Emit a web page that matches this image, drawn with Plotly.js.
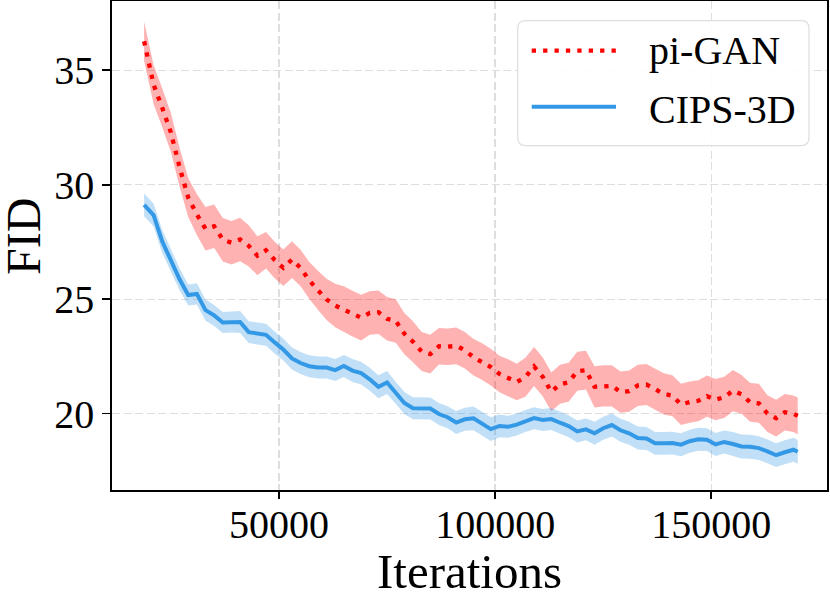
<!DOCTYPE html>
<html>
<head>
<meta charset="utf-8">
<script src="https://cdn.plot.ly/plotly-3.0.1.min.js"></script>
<style>
  html, body { margin: 0; padding: 0; background: #fff; }
  #plotArea { width: 830px; height: 599px; }
</style>
</head>
<body>
<div id="plotArea"></div>
<script>
var iterations = [18800, 21000, 23000, 25000, 27000, 29000, 31000, 33000, 35000, 37000,
    39000, 41000, 43000, 45000, 47000, 49000, 51000, 53000, 55000, 57000,
    59000, 61000, 63000, 65000, 67000, 69000, 71000, 73000, 75000, 77000,
    79000, 81000, 83000, 85000, 87000, 89000, 91000, 93000, 95000, 97000,
    99000, 101000, 103000, 105000, 107000, 109000, 111000, 113000, 115000, 117000,
    119000, 121000, 123000, 125000, 127000, 129000, 131000, 133000, 135000, 137000,
    139000, 141000, 143000, 145000, 147000, 149000, 151000, 153000, 155000, 157000,
    159000, 161000, 163000, 165000, 167000, 169000, 170000];

var piGanFid = [36.27, 34.37, 33.36, 32.28, 30.77, 29.44, 28.70, 28.08, 28.19, 27.60,
    27.47, 27.61, 27.33, 26.90, 27.14, 26.71, 26.37, 26.73, 26.36, 25.82,
    25.39, 24.99, 24.72, 24.56, 24.37, 24.19, 24.40, 24.43, 24.14, 24.05,
    23.49, 23.14, 22.71, 22.60, 22.94, 22.92, 22.96, 22.77, 22.46, 22.27,
    22.03, 21.73, 21.57, 21.38, 21.59, 22.06, 21.61, 20.95, 21.28, 21.37,
    21.85, 21.90, 21.17, 21.21, 21.21, 20.94, 20.98, 21.23, 21.27, 21.07,
    20.86, 20.78, 20.40, 20.50, 20.56, 20.76, 20.61, 20.71, 21.00, 20.84,
    20.49, 20.45, 20.00, 19.80, 20.06, 19.99, 19.90];
var piGanStd = [0.85, 0.85, 0.85, 0.85, 0.85, 0.85, 0.90, 0.95, 0.95, 0.95,
    0.95, 0.95, 0.90, 0.85, 0.80, 0.80, 0.80, 0.80, 0.80, 0.80,
    0.85, 0.90, 0.95, 1.00, 1.00, 1.00, 0.95, 0.95, 0.95, 0.95,
    0.90, 0.90, 0.85, 0.85, 0.80, 0.80, 0.80, 0.80, 0.80, 0.80,
    0.80, 0.80, 0.80, 0.80, 0.85, 0.85, 0.85, 0.85, 0.85, 0.85,
    0.85, 0.85, 0.90, 0.90, 0.90, 0.90, 0.90, 0.90, 0.90, 0.90,
    0.90, 0.90, 0.90, 0.90, 0.90, 0.90, 0.90, 0.90, 0.90, 0.85,
    0.85, 0.85, 0.80, 0.80, 0.80, 0.80, 0.80];

var cipsFid = [29.12, 28.67, 27.52, 26.69, 25.87, 25.18, 25.23, 24.52, 24.29, 23.98,
    24.00, 24.00, 23.56, 23.50, 23.44, 23.11, 22.80, 22.41, 22.21, 22.07,
    22.01, 22.01, 21.90, 22.08, 21.88, 21.77, 21.50, 21.17, 21.36, 20.91,
    20.46, 20.23, 20.22, 20.22, 19.98, 19.84, 19.61, 19.75, 19.79, 19.54,
    19.32, 19.46, 19.42, 19.52, 19.68, 19.80, 19.72, 19.76, 19.60, 19.45,
    19.22, 19.31, 19.14, 19.36, 19.50, 19.27, 19.14, 18.93, 18.91, 18.70,
    18.70, 18.71, 18.64, 18.79, 18.88, 18.86, 18.65, 18.76, 18.67, 18.56,
    18.55, 18.49, 18.35, 18.18, 18.31, 18.42, 18.33];
var cipsStd = [0.50, 0.50, 0.50, 0.50, 0.48, 0.46, 0.46, 0.46, 0.46, 0.46,
    0.46, 0.48, 0.48, 0.48, 0.48, 0.48, 0.48, 0.48, 0.48, 0.48,
    0.48, 0.48, 0.48, 0.48, 0.50, 0.50, 0.50, 0.50, 0.50, 0.48,
    0.48, 0.48, 0.48, 0.48, 0.48, 0.48, 0.50, 0.50, 0.52, 0.52,
    0.52, 0.50, 0.48, 0.48, 0.48, 0.48, 0.48, 0.48, 0.48, 0.48,
    0.48, 0.48, 0.50, 0.50, 0.50, 0.50, 0.50, 0.50, 0.50, 0.50,
    0.50, 0.50, 0.50, 0.50, 0.50, 0.50, 0.50, 0.50, 0.52, 0.52,
    0.52, 0.52, 0.52, 0.52, 0.52, 0.52, 0.52];

var xTicks = [50000, 100000, 150000];
var yTicks = [20, 25, 30, 35];
var seriesNames = ["pi-GAN", "CIPS-3D"];

var RED = "rgb(255,0,0)";
var BLUE = "rgb(51,152,230)";
var FONT = "Liberation Serif, Times New Roman, serif";

function band(mean, sd, sign) {
    return mean.map(function (v, i) { return v + sign * sd[i]; });
}

var traces = [
    { x: iterations, y: band(piGanFid, piGanStd, -1), type: "scatter", mode: "lines",
      line: { width: 0, color: RED }, showlegend: false, hoverinfo: "skip" },
    { x: iterations, y: band(piGanFid, piGanStd, 1), type: "scatter", mode: "lines",
      line: { width: 0, color: RED }, fill: "tonexty", fillcolor: "rgba(255,0,0,0.3)",
      showlegend: false, hoverinfo: "skip" },
    { x: iterations, y: band(cipsFid, cipsStd, -1), type: "scatter", mode: "lines",
      line: { width: 0, color: BLUE }, showlegend: false, hoverinfo: "skip" },
    { x: iterations, y: band(cipsFid, cipsStd, 1), type: "scatter", mode: "lines",
      line: { width: 0, color: BLUE }, fill: "tonexty", fillcolor: "rgba(51,152,230,0.3)",
      showlegend: false, hoverinfo: "skip" },
    { x: iterations, y: piGanFid, type: "scatter", mode: "lines", name: seriesNames[0],
      line: { color: RED, width: 4.3, dash: "4.3px,7.1px" } },
    { x: iterations, y: cipsFid, type: "scatter", mode: "lines", name: seriesNames[1],
      line: { color: BLUE, width: 4 } }
];

// legend drawn by hand so the line samples match the long matplotlib handles
var lx0 = 0.5674, lx1 = 0.9748, ly0 = 0.7041, ly1 = 0.9597, rx = 0.011, ry = 0.016;
var legendBox = "M" + (lx0 + rx) + "," + ly1 + " L" + (lx1 - rx) + "," + ly1 +
    " Q" + lx1 + "," + ly1 + " " + lx1 + "," + (ly1 - ry) +
    " L" + lx1 + "," + (ly0 + ry) + " Q" + lx1 + "," + ly0 + " " + (lx1 - rx) + "," + ly0 +
    " L" + (lx0 + rx) + "," + ly0 + " Q" + lx0 + "," + ly0 + " " + lx0 + "," + (ly0 + ry) +
    " L" + lx0 + "," + (ly1 - ry) + " Q" + lx0 + "," + ly1 + " " + (lx0 + rx) + "," + ly1 + " Z";

var layout = {
    width: 830,
    height: 599,
    margin: { l: 112, r: 3, t: 1, b: 109 },
    paper_bgcolor: "#fff",
    plot_bgcolor: "#fff",
    showlegend: false,
    font: { family: FONT, color: "#000" },
    xaxis: {
        range: [11370, 176770],
        tickvals: xTicks,
        ticktext: xTicks.map(String),
        ticks: "outside", ticklen: 7, tickwidth: 1.8, tickcolor: "#000",
        ticklabelstandoff: -9,
        showline: true, linecolor: "#000", linewidth: 1.8, mirror: true,
        showgrid: true, gridcolor: "rgb(222,222,222)", gridwidth: 1.3, griddash: "8px,3.5px",
        zeroline: false,
        tickfont: { size: 40, family: FONT },
        title: { text: "Iterations", font: { size: 49, family: FONT }, standoff: 8 }
    },
    yaxis: {
        range: [16.66, 38.03],
        tickvals: yTicks,
        ticks: "outside", ticklen: 8, tickwidth: 1.8, tickcolor: "#000",
        showline: true, linecolor: "#000", linewidth: 1.8, mirror: true,
        showgrid: true, gridcolor: "rgb(222,222,222)", gridwidth: 1.3, griddash: "8px,3.5px",
        zeroline: false,
        tickfont: { size: 40, family: FONT }
    },
    shapes: [
        { type: "path", xref: "paper", yref: "paper", path: legendBox,
          fillcolor: "rgba(255,255,255,0.9)", line: { color: "rgb(222,222,222)", width: 1.2 } },
        { type: "line", xref: "paper", yref: "paper", x0: 0.587, x1: 0.7049, y0: 0.8984, y1: 0.8984,
          line: { color: RED, width: 4.3, dash: "4.3px,7.1px" } },
        { type: "line", xref: "paper", yref: "paper", x0: 0.587, x1: 0.7049, y0: 0.7838, y1: 0.7838,
          line: { color: BLUE, width: 4 } }
    ],
    annotations: [
        // y-axis title placed directly, Plotly's standoff would not move it far enough left
        { xref: "paper", yref: "paper", x: -0.1245, y: 0.5194, xanchor: "center", yanchor: "middle",
          textangle: -90, text: "FID", showarrow: false, font: { size: 48, family: FONT } },
        { xref: "paper", yref: "paper", x: 0.7483, y: 0.8988, xanchor: "left", yanchor: "middle",
          text: seriesNames[0], showarrow: false, font: { size: 40, family: FONT } },
        { xref: "paper", yref: "paper", x: 0.7483, y: 0.7791, xanchor: "left", yanchor: "middle",
          text: seriesNames[1], showarrow: false, font: { size: 40, family: FONT } }
    ]
};

Plotly.newPlot("plotArea", traces, layout, { displayModeBar: false, staticPlot: true });
</script>
</body>
</html>
